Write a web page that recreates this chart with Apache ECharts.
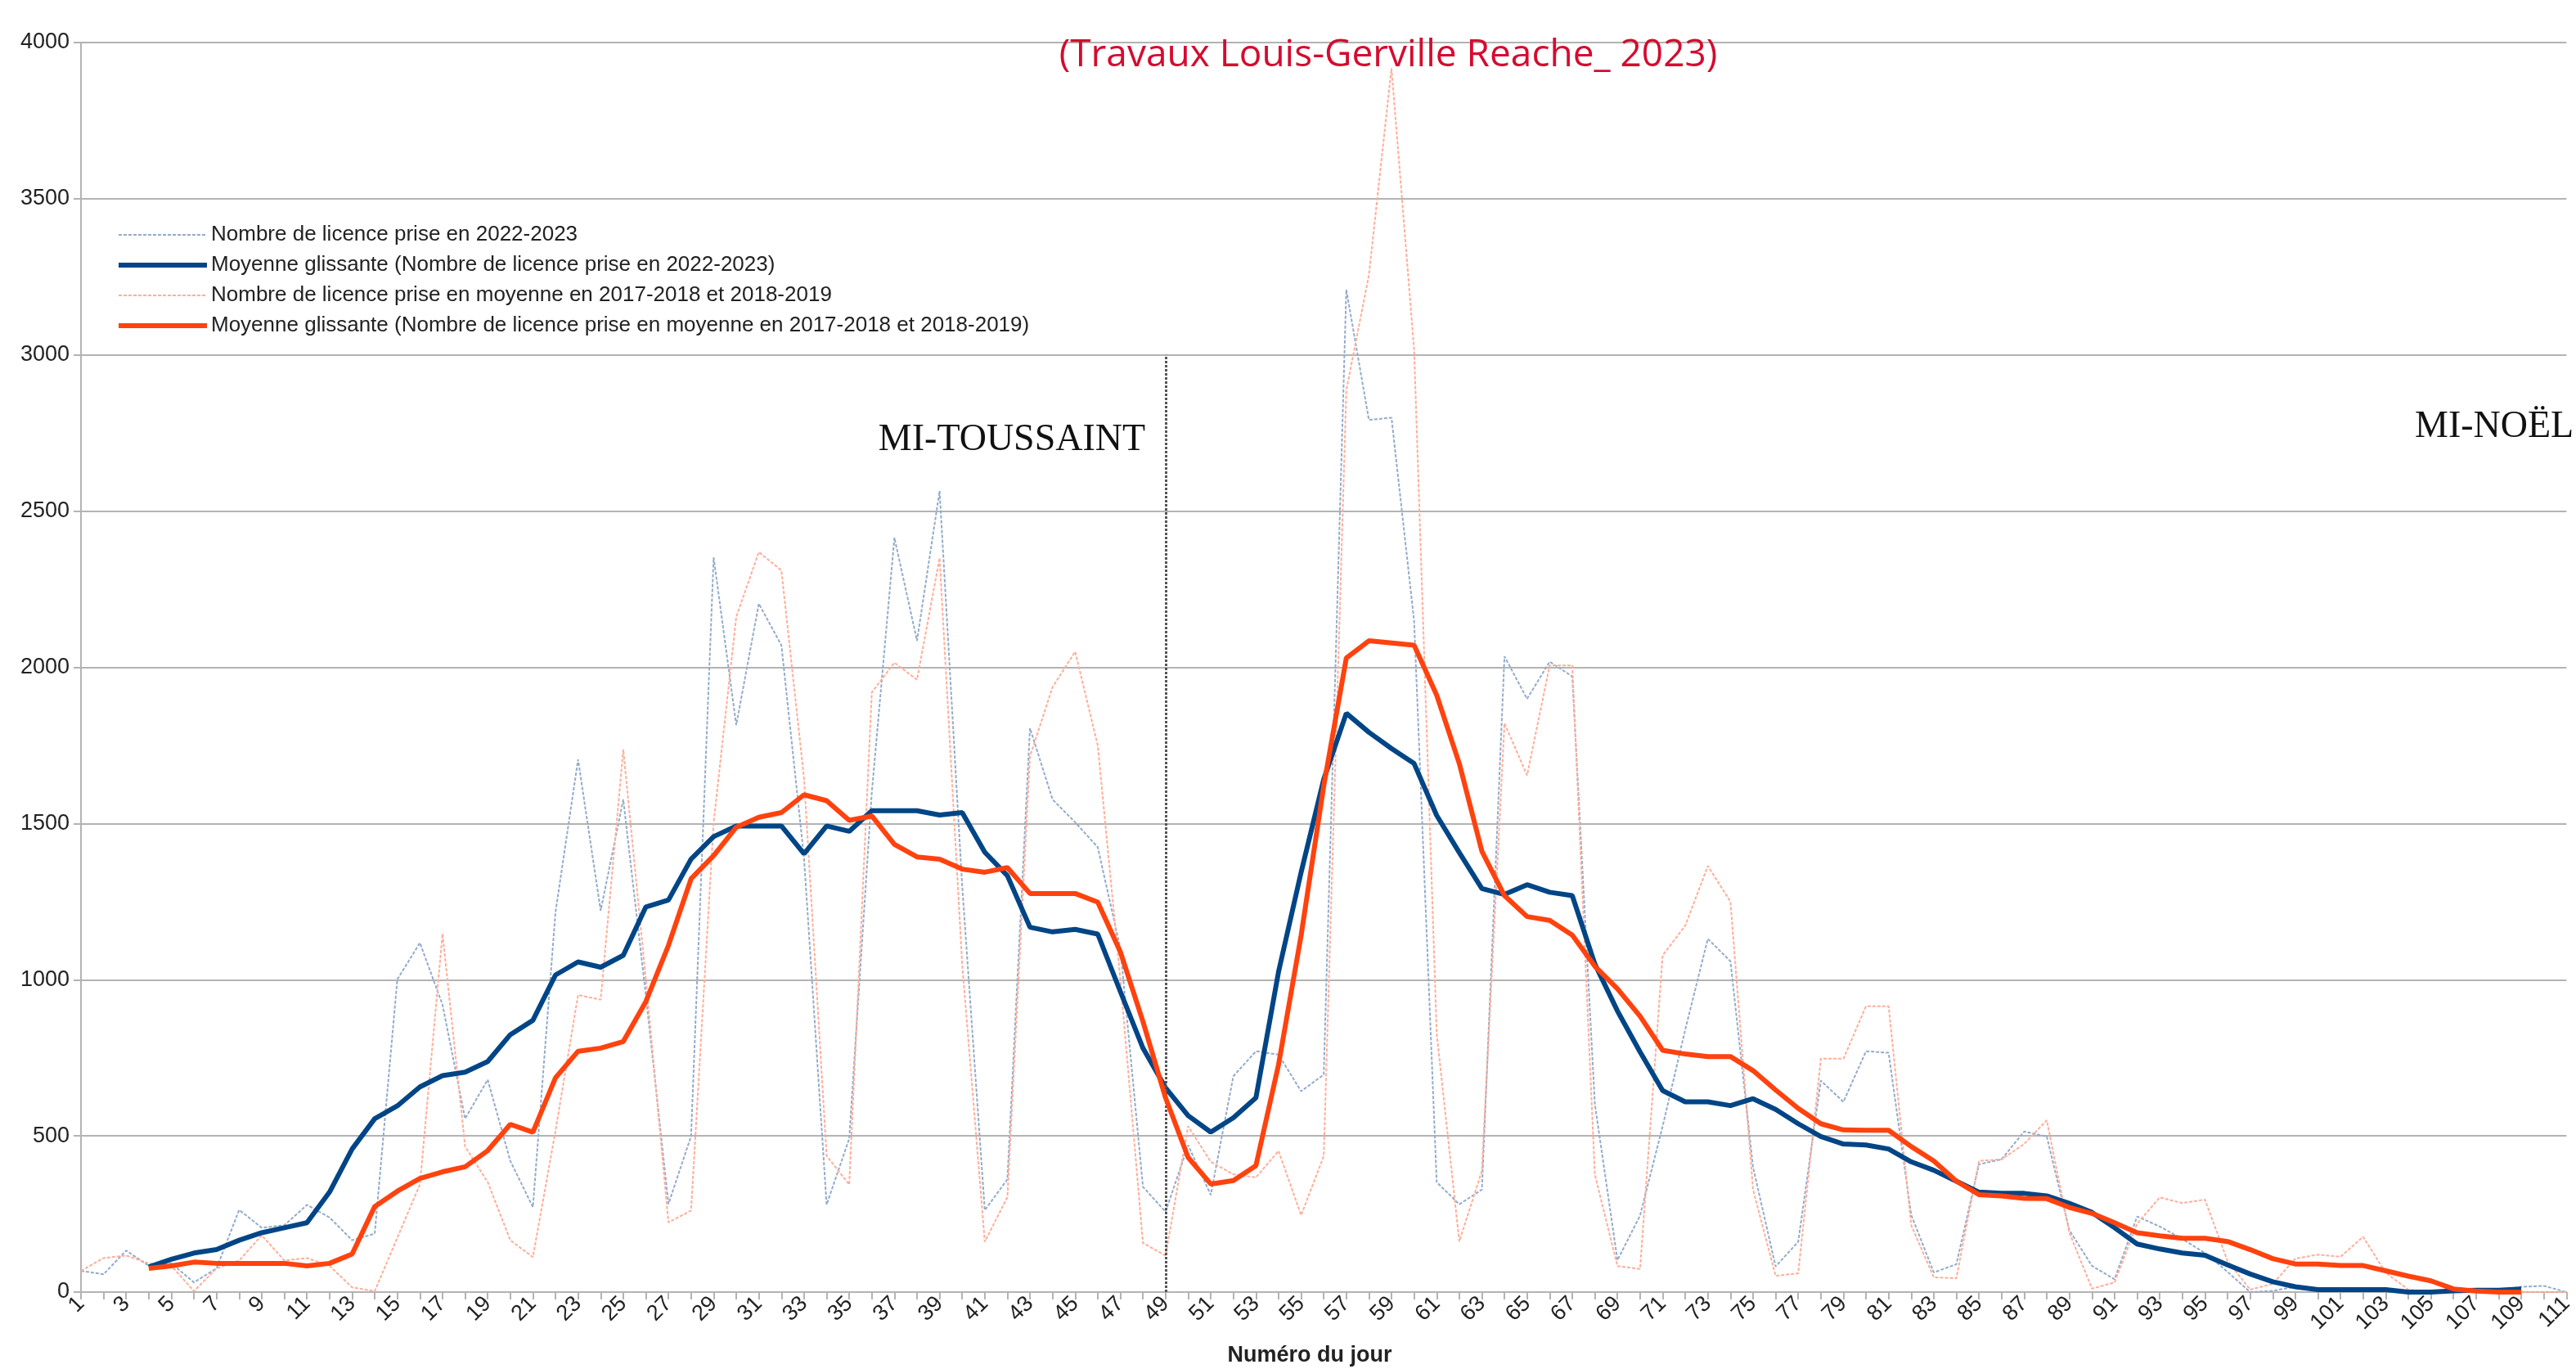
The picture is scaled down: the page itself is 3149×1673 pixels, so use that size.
<!DOCTYPE html>
<html>
<head>
<meta charset="utf-8">
<script src="https://cdn.jsdelivr.net/npm/echarts@6/dist/echarts.min.js"></script>
<style>
html,body{margin:0;padding:0;background:#fff;}
#chart{width:3149px;height:1673px;}
</style>
</head>
<body>
<div id="chart"></div>
<script>
// ---- Data ----
const days = [];
for (let d = 1; d <= 111; d++) days.push(String(d));

const yTicks = { min: 0, max: 4000, interval: 500 };

const seriesNames = [
  'Nombre de licence prise en 2022-2023',
  'Moyenne glissante (Nombre de licence prise en 2022-2023)',
  'Nombre de licence prise en moyenne en 2017-2018 et 2018-2019',
  'Moyenne glissante (Nombre de licence prise en moyenne en 2017-2018 et 2018-2019)'
];

const raw2022 = [
  68, 57, 133, 84, 92, 31, 76, 263, 206, 214,
  279, 239, 166, 187, 1001, 1118, 920, 555, 680, 420,
  272, 1216, 1705, 1221, 1577, 950, 282, 499, 2352, 1815,
  2204, 2070, 1390, 280, 491, 1600, 2415, 2085, 2565, 1300,
  262, 361, 1805, 1577, 1504, 1424, 1100, 337, 257, 470,
  311, 691, 771, 760, 643, 696, 3209, 2792, 2799, 2149,
  352, 281, 328, 2035, 1899, 2018, 1971, 602, 102, 245,
  531, 840, 1131, 1059, 400, 82, 161, 677, 609, 771,
  766, 247, 63, 89, 409, 425, 514, 498, 198, 84,
  41, 242, 210, 170, 125, 65, 0, 4, 17, 10,
  5, 5, 5, 0, 0, 5, 5, 5, 17, 20,
  0
];

const ma2022 = [
  null, null, null, 80, 105, 125, 136, 166, 190, 206,
  222, 320, 458, 555, 596, 657, 693, 704, 738, 824,
  870, 1015, 1057, 1040, 1078, 1233, 1255, 1386, 1458, 1492,
  1492, 1492, 1403, 1492, 1475, 1541, 1541, 1541, 1527, 1535,
  1408, 1333, 1168, 1153, 1161, 1146, 962, 781, 654, 565,
  512, 558, 622, 1025, 1344, 1641, 1853, 1792, 1740, 1692,
  1526, 1407, 1292, 1273, 1304, 1280, 1269, 1050, 900, 769,
  645, 609, 609, 597, 619, 585, 539, 498, 474, 471,
  458, 417, 390, 355, 320, 316, 316, 308, 284, 255,
  206, 154, 138, 125, 118, 87, 58, 33, 17, 8,
  8, 8, 8, 0, 0, 4, 6, 6, 10, null,
  null
];

const rawOld = [
  68, 109, 117, 92, 84, 3, 76, 101, 182, 101,
  109, 84, 15, 3, 174, 344, 1147, 466, 352, 166,
  112, 516, 951, 936, 1737, 1000, 223, 261, 1503, 2161,
  2369, 2310, 1645, 436, 344, 1920, 2015, 1960, 2350, 1050,
  161, 304, 1715, 1937, 2050, 1750, 1000, 157, 117, 531,
  417, 377, 367, 452, 246, 435, 2887, 3256, 3918, 3018,
  828, 162, 388, 1821, 1654, 2006, 2006, 376, 83, 74,
  1078, 1173, 1364, 1250, 328, 52, 60, 747, 747, 915,
  915, 214, 47, 44, 420, 425, 474, 550, 190, 11,
  31, 219, 303, 285, 296, 100, 8, 26, 107, 120,
  113, 177, 62, 8, 0, 0, 0, 0, 0, 0,
  0
];

const maOld = [
  null, null, null, 76, 84, 96, 92, 92, 92, 92,
  84, 92, 122, 274, 323, 364, 385, 401, 453, 537,
  512, 686, 771, 781, 802, 930, 1110, 1323, 1397, 1488,
  1520, 1535, 1592, 1573, 1510, 1524, 1433, 1393, 1386, 1354,
  1344, 1359, 1276, 1276, 1276, 1248, 1089, 866, 622, 431,
  346, 357, 405, 728, 1142, 1620, 2030, 2085, 2078, 2071,
  1911, 1692, 1411, 1269, 1202, 1190, 1143, 1043, 971, 883,
  774, 762, 754, 754, 709, 647, 588, 539, 519, 518,
  518, 466, 420, 355, 312, 308, 300, 299, 271, 252,
  222, 190, 180, 172, 172, 162, 136, 107, 90, 90,
  85, 85, 68, 51, 36, 10, 3, 0, 0, null,
  null
];

// vertical marker (day of mid-Toussaint) and its top value
const markerDay = '49';
const markerTop = 3000;

const titleText = '(Travaux Louis-Gerville Reache_ 2023)';
const noteLeft = 'MI-TOUSSAINT';
const noteRight = 'MI-NOËL';
const xName = 'Numéro du jour';

// ---- Styles ----
const sansFont = "'Liberation Sans', Arial, sans-serif";
const serifFont = "'Liberation Serif', 'DejaVu Serif', serif";
const rawBlueStyle = { color: '#93abcb', width: 2, type: [4, 2] };
const maBlueStyle = { color: '#004586', width: 6, type: 'solid' };
const rawRedStyle = { color: '#ffae9a', width: 2, type: [4, 2] };
const maRedStyle = { color: '#ff420e', width: 6, type: 'solid' };

// ---- Chart ----
const chart = echarts.init(document.getElementById('chart'), null, { renderer: 'canvas' });

chart.setOption({
  animation: false,
  backgroundColor: '#ffffff',
  grid: { left: 99, top: 52, bottom: 94, right: -8, containLabel: false },
  legend: {
    orient: 'vertical',
    left: 137,
    top: 268,
    itemWidth: 108,
    itemHeight: 14,
    itemGap: 9,
    data: [
      { name: seriesNames[0], lineStyle: rawBlueStyle },
      { name: seriesNames[1], lineStyle: maBlueStyle },
      { name: seriesNames[2], lineStyle: rawRedStyle },
      { name: seriesNames[3], lineStyle: maRedStyle }
    ],
    itemStyle: { opacity: 0 },
    textStyle: { fontFamily: sansFont, fontSize: 26, color: '#222', lineHeight: 28 }
  },
  xAxis: {
    type: 'category',
    data: days,
    boundaryGap: false,
    axisLine: { show: true, lineStyle: { color: '#b3b3b3', width: 2 } },
    axisTick: { show: true, interval: 0, length: 9, lineStyle: { color: '#b3b3b3', width: 2 } },
    axisLabel: {
      interval: 1,
      rotate: 45,
      margin: 10,
      fontFamily: sansFont,
      fontSize: 27,
      color: '#222'
    },
    splitLine: { show: false }
  },
  yAxis: {
    type: 'value',
    min: yTicks.min,
    max: yTicks.max,
    interval: yTicks.interval,
    axisLine: { show: true, lineStyle: { color: '#b3b3b3', width: 2 } },
    axisTick: { show: true, length: 9, lineStyle: { color: '#b3b3b3', width: 2 } },
    axisLabel: { fontFamily: sansFont, fontSize: 27, color: '#222', margin: 14,
      formatter: function (v) { return String(v); } },
    splitLine: { show: true, lineStyle: { color: '#b3b3b3', width: 2 } }
  },
  graphic: [
    {
      type: 'text', x: 1697, y: 68, z: 100,
      style: { text: titleText, fontFamily: "'Open Sans', sans-serif", fontSize: 46,
        fill: '#d50b2f', align: 'center', verticalAlign: 'middle' }
    },
    {
      type: 'text', x: 1237, y: 538, z: 100,
      style: { text: noteLeft, fontFamily: serifFont, fontSize: 46,
        fill: '#111', align: 'center', verticalAlign: 'middle' }
    },
    {
      type: 'text', x: 2952, y: 522, z: 100,
      style: { text: noteRight, fontFamily: serifFont, fontSize: 46,
        fill: '#111', align: 'left', verticalAlign: 'middle' }
    },
    {
      type: 'text', x: 1601, y: 1657, z: 100,
      style: { text: xName, fontFamily: sansFont, fontSize: 27, fontWeight: 'bold',
        fill: '#222', align: 'center', verticalAlign: 'middle' }
    }
  ],
  series: [
    {
      name: seriesNames[0],
      type: 'line',
      data: raw2022,
      symbol: 'none',
      z: 2,
      lineStyle: rawBlueStyle,
      itemStyle: { color: rawBlueStyle.color },
      markLine: {
        silent: true,
        symbol: 'none',
        label: { show: false },
        lineStyle: { color: '#555', width: 3, type: [3, 2] },
        data: [[{ coord: [markerDay, 0] }, { coord: [markerDay, markerTop] }]]
      }
    },
    {
      name: seriesNames[1],
      type: 'line',
      data: ma2022,
      symbol: 'none',
      z: 4,
      lineStyle: maBlueStyle,
      itemStyle: { color: maBlueStyle.color }
    },
    {
      name: seriesNames[2],
      type: 'line',
      data: rawOld,
      symbol: 'none',
      z: 2,
      lineStyle: rawRedStyle,
      itemStyle: { color: rawRedStyle.color }
    },
    {
      name: seriesNames[3],
      type: 'line',
      data: maOld,
      symbol: 'none',
      z: 5,
      lineStyle: maRedStyle,
      itemStyle: { color: maRedStyle.color }
    }
  ]
});
</script>
</body>
</html>
